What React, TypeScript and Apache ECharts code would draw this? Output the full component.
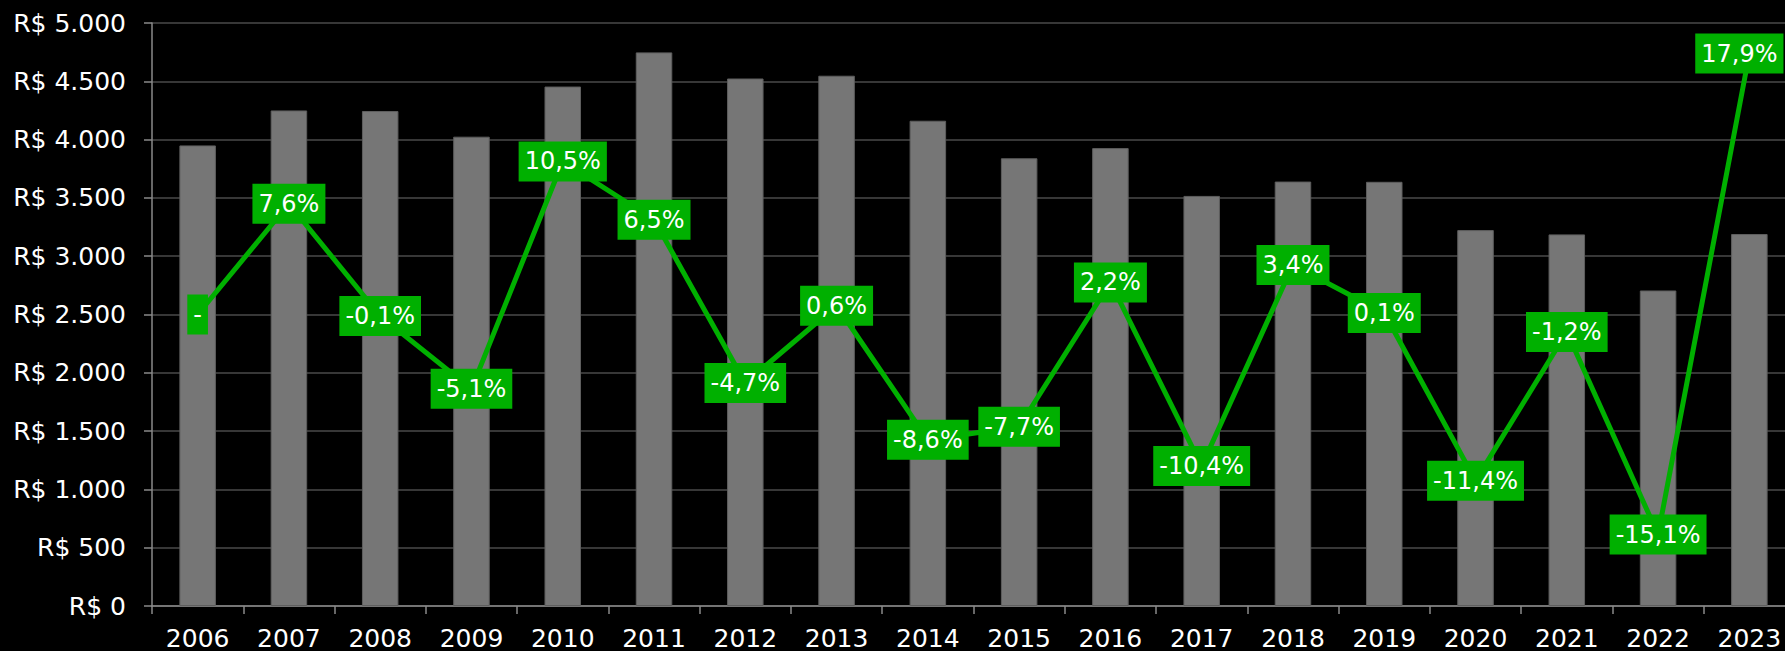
import React, { useEffect, useRef } from "react";
import * as echarts from "echarts";

const years = ["2006","2007","2008","2009","2010","2011","2012","2013","2014","2015","2016","2017","2018","2019","2020","2021","2022","2023"];
const values = [3950, 4250, 4245, 4025, 4455, 4748, 4524, 4548, 4162, 3840, 3927, 3517, 3640, 3638, 3224, 3187, 2706, 3190];
const changes = [0, 7.6, -0.1, -5.1, 10.5, 6.5, -4.7, 0.6, -8.6, -7.7, 2.2, -10.4, 3.4, 0.1, -11.4, -1.2, -15.1, 17.9];
const changeLabels = ["-", "7,6%", "-0,1%", "-5,1%", "10,5%", "6,5%", "-4,7%", "0,6%", "-8,6%", "-7,7%", "2,2%", "-10,4%", "3,4%", "0,1%", "-11,4%", "-1,2%", "-15,1%", "17,9%"];

const FONT = "DejaVu Sans";
const GREEN = "#00b000";

export default function App() {
  const ref = useRef<HTMLDivElement>(null);
  useEffect(() => {
    document.body.style.margin = "0";
    document.body.style.background = "#000";
    const chart = echarts.init(ref.current!, null, { renderer: "svg" });
    const lineData = changes.map((v, i) =>
      i === changes.length - 1 ? { value: v, label: { offset: [-10, 0] } } : v
    );
    chart.setOption({
      animation: false,
      backgroundColor: "#000000",
      grid: { left: 152, top: 23, width: 1643, height: 583, outerBoundsMode: "none", containLabel: false },
      xAxis: {
        type: "category",
        data: years,
        axisLine: { lineStyle: { color: "#8a8a8a", width: 1.5 } },
        axisTick: { show: true, length: 8, lineStyle: { color: "#8a8a8a", width: 1.5 } },
        axisLabel: { color: "#ffffff", fontFamily: FONT, fontSize: 25, lineHeight: 22, margin: 21 },
      },
      yAxis: [
        {
          type: "value",
          min: 0,
          max: 5000,
          interval: 500,
          axisLine: { show: true, lineStyle: { color: "#8a8a8a", width: 1.5 } },
          axisTick: { show: true, length: 8, lineStyle: { color: "#8a8a8a", width: 1.5 } },
          splitLine: { lineStyle: { color: "#4a4a4a", width: 1.5 } },
          axisLabel: {
            color: "#ffffff",
            fontFamily: FONT,
            fontSize: 25,
            margin: 26,
            formatter: (v: number) => "R$ " + v.toString().replace(/\B(?=(\d{3})+(?!\d))/g, "."),
          },
        },
        {
          type: "value",
          min: -20,
          max: 20,
          show: false,
          splitLine: { show: false },
        },
      ],
      series: [
        {
          type: "bar",
          data: values,
          barWidth: "40%",
          itemStyle: { color: "#767676", borderColor: "#5e5e5e", borderWidth: 1 },
          z: 1,
        },
        {
          type: "line",
          yAxisIndex: 1,
          data: lineData,
          symbol: "circle",
          symbolSize: 1,
          itemStyle: { color: GREEN },
          lineStyle: { color: GREEN, width: 5 },
          z: 3,
          label: {
            show: true,
            position: "inside",
            formatter: (p: any) => changeLabels[p.dataIndex],
            color: "#ffffff",
            fontFamily: FONT,
            fontSize: 24,
            backgroundColor: GREEN,
            padding: [8, 6],
            lineHeight: 24,
          },
        },
      ],
    });
    return () => chart.dispose();
  }, []);
  return <div ref={ref} style={{ position: "fixed", left: 0, top: 0, width: 1785, height: 651 }} />;
}
